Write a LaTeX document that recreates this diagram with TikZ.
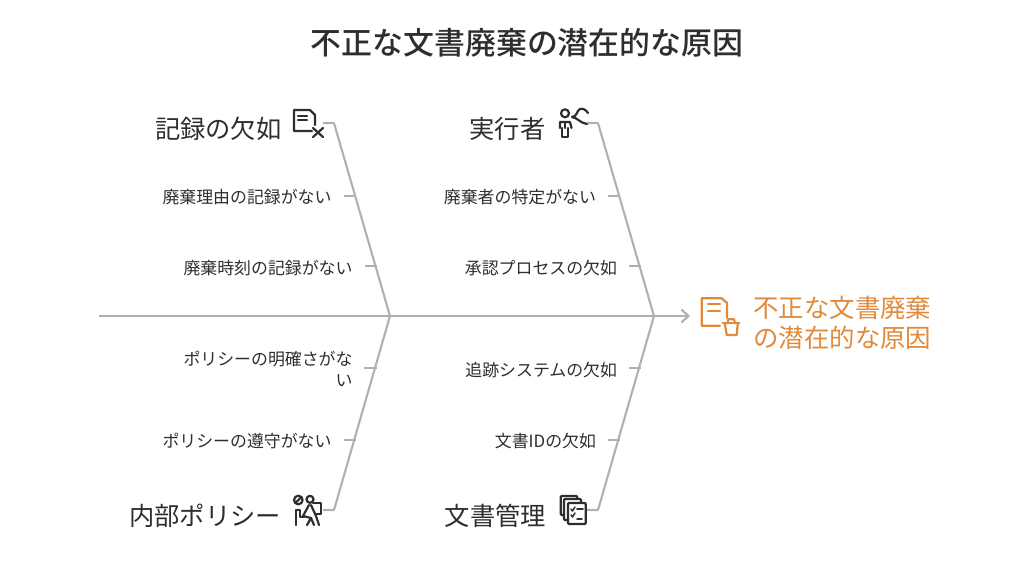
\documentclass[tikz,border=0pt]{standalone}
\usepackage{fontspec}
\setmainfont{Noto Sans CJK JP}
\newfontfamily\titlefont{Noto Sans CJK JP Medium}
\usetikzlibrary{arrows.meta}
\definecolor{inkdark}{HTML}{2E2E2E}
\definecolor{bonegray}{HTML}{B0B0B0}
\definecolor{effectorange}{HTML}{E08A3C}
\tikzset{
  every node/.style={inner sep=0pt,outer sep=0pt,text=inkdark},
  titletext/.style={font=\titlefont\fontsize{30.9}{36}\selectfont},
  headtext/.style={font=\fontsize{25.3}{30}\selectfont,anchor=east},
  causetext/.style={font=\fontsize{16.9}{21}\selectfont,anchor=east,align=right,inner xsep=12pt},
  effecttext/.style={font=\fontsize{25.4}{30}\selectfont,anchor=west,align=left,text=effectorange},
  bone/.style={draw=bonegray,line width=2.1pt,line join=round},
  twig/.style={draw=bonegray,line width=1.8pt},
  iconline/.style={draw=inkdark,line width=2.2pt,line join=round,line cap=round},
  effecticon/.style={draw=effectorange,line width=2.2pt,line join=round,line cap=round},
}
\begin{document}
\begin{tikzpicture}[x=1pt,y=-1pt]
\useasboundingbox (0,0) rectangle (1024,576);
\node[titletext] (title) at (527,43) {不正な文書廃棄の潜在的な原因};
% spine
\coordinate (tail) at (99,316);
\coordinate (jointL) at (390,316);
\coordinate (jointR) at (654,316);
\coordinate (head) at (690,316);
\draw[bone] (tail) -- (jointL) -- (jointR);
\draw[bone,-{Straight Barb[length=7pt,width=13pt]}] (jointR) -- (head);
% top left bone
\coordinate (recordStart) at (323,123);
\coordinate (recordBend) at (334,123);
\coordinate (recordA) at (356,196);
\coordinate (recordB) at (377,266);
\draw[bone] (recordStart) -- (recordBend) -- (jointL);
\node[headtext] (record) at (281.5,128.5) {記録の欠如};
\node[causetext] (reason) at (343.5,197.5) {廃棄理由の記録がない};
\node[causetext] (time) at (364.5,268) {廃棄時刻の記録がない};
\draw[twig] (reason.east |- recordA) -- (recordA);
\draw[twig] (time.east |- recordB) -- (recordB);
% top right bone
\coordinate (actorStart) at (587,123);
\coordinate (actorBend) at (598,123);
\coordinate (actorA) at (620,196);
\coordinate (actorB) at (641,266);
\draw[bone] (actorStart) -- (actorBend) -- (jointR);
\node[headtext] (actor) at (545.5,128.5) {実行者};
\node[causetext] (who) at (608,197.5) {廃棄者の特定がない};
\node[causetext] (approve) at (629,268) {承認プロセスの欠如};
\draw[twig] (who.east |- actorA) -- (actorA);
\draw[twig] (approve.east |- actorB) -- (actorB);
% bottom left bone
\coordinate (policyStart) at (323,510);
\coordinate (policyBend) at (334,510);
\coordinate (policyA) at (377,368);
\coordinate (policyB) at (356,440);
\draw[bone] (policyStart) -- (policyBend) -- (jointL);
\node[headtext] (policy) at (281,515.5) {内部ポリシー};
\node[causetext,anchor=north east] (clear) at (364.5,351.5) {ポリシーの明確さがな\\い};
\coordinate (clearEnd) at (364,368);
\node[causetext] (comply) at (343.5,441.5) {ポリシーの遵守がない};
\draw[twig] (clearEnd) -- (policyA);
\draw[twig] (comply.east |- policyB) -- (policyB);
% bottom right bone
\coordinate (manageStart) at (587,510);
\coordinate (manageBend) at (598,510);
\coordinate (manageA) at (641,368);
\coordinate (manageB) at (620,440);
\draw[bone] (manageStart) -- (manageBend) -- (jointR);
\node[headtext] (manage) at (546,515.5) {文書管理};
\node[causetext] (track) at (629,370) {追跡システムの欠如};
\node[causetext] (docid) at (608,441.5) {文書IDの欠如};
\draw[twig] (track.east |- manageA) -- (manageA);
\draw[twig] (docid.east |- manageB) -- (manageB);
% effect
\node[effecttext] (effect) at (753.5,322.5) {不正な文書廃棄\\の潜在的な原因};
\draw[effecticon] (720,325.7) -- (701.7,325.7) -- (701.7,298.3) -- (721.7,298.3) -- (727,303) -- (727,318);
\draw[effecticon] (708,304) -- (720,304);
\draw[effecticon] (708,311) -- (720,311);
\draw[effecticon] (722.7,323.3) -- (739.3,323.3);
\draw[effecticon] (727.3,323.3) -- (728.3,319.3) -- (734,319.3) -- (735,323.3);
\draw[effecticon] (725,324.3) -- (726.7,335) -- (736.7,335) -- (737.7,324.3);
% record icon
\draw[iconline] (312,131) -- (294,131) -- (294,110) -- (310,110) -- (315,115) -- (315,125);
\draw[iconline] (298,116) -- (307,116);
\draw[iconline] (298,120) -- (307,120);
\draw[iconline] (313,128) -- (323,137);
\draw[iconline] (323,128) -- (313,137);
% actor icon
\draw[iconline] (565,113.3) circle (4pt);
\draw[iconline] (560,128) -- (560,122) -- (570,122) -- (571.5,128);
\draw[iconline] (562,128) -- (562,137) -- (568,137) -- (568,128);
\draw[iconline] (565,122) -- (565,128);
\draw[iconline] (572,117) .. controls (577,117) and (577,110) .. (580,109) .. controls (583,108) and (586,110) .. (588,113);
\draw[iconline] (572,117) .. controls (578,118) and (580,123) .. (587,124);
% policy icon
\draw[iconline] (298.3,500) circle (4.3pt);
\draw[iconline] (295.3,503) -- (301.3,497);
\draw[iconline] (310,499.3) circle (3.5pt);
\draw[iconline] (295.7,525) -- (295.7,510) -- (300,510) -- (300,517) -- (304,517);
\draw[iconline] (313,503) -- (321,503) -- (321,514) -- (315,514);
\draw[iconline] (309,505) -- (303,516) -- (311,518) -- (307,525);
\draw[iconline] (311,505) -- (316,516) -- (319,525);
\draw[iconline] (311,518) -- (314,525);
% manage icon
\draw[iconline,fill=white,rounded corners=1pt] (560.7,496) rectangle (577.3,515);
\draw[iconline,fill=white,rounded corners=1pt] (564,499) rectangle (581,520);
\draw[iconline,fill=white,rounded corners=1pt] (568,503) rectangle (585.7,524);
\draw[iconline,line width=1.5pt] (571,509) -- (572.5,511) -- (575,507);
\draw[iconline,line width=1.5pt] (577,509) -- (583,509);
\draw[iconline,line width=1.5pt] (571,515) -- (572.5,517) -- (575,513);
\draw[iconline,line width=1.5pt] (577,519) -- (582,519);
\end{tikzpicture}
\end{document}
